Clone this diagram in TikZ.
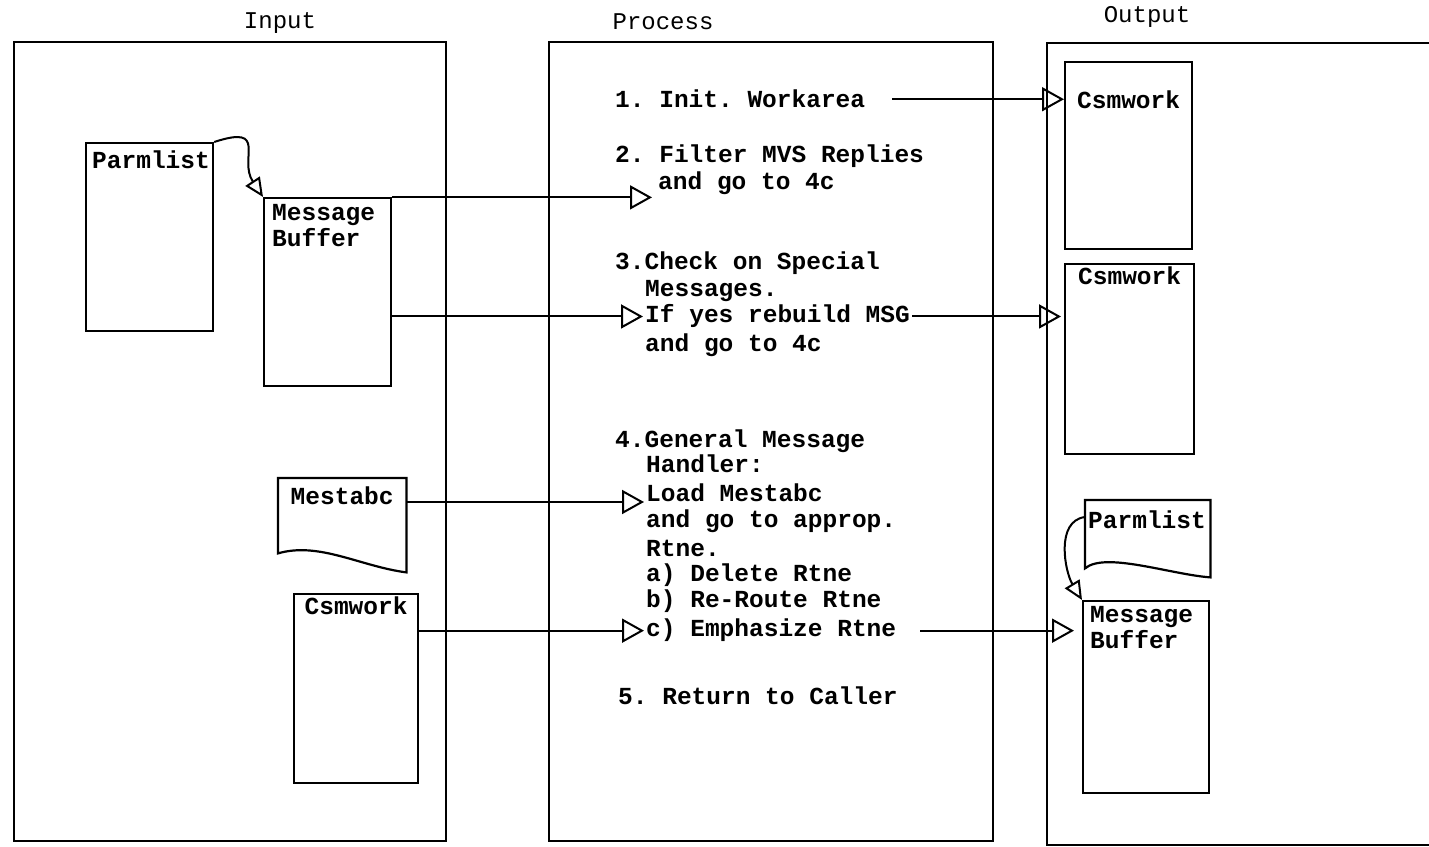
\documentclass[tikz,border=0pt]{standalone}
\usepackage{fontspec}
\setmonofont{Liberation Mono}
\usetikzlibrary{arrows.meta,positioning}

\begin{document}
\begin{tikzpicture}[x=1pt,y=1pt,
  panel/.style={draw,line width=2.4pt,anchor=south west,inner sep=0pt},
  box/.style={draw,line width=2.2pt,anchor=north west,inner sep=0pt},
  doc/.style={anchor=north west,inner sep=0pt},
  lbl/.style={font=\ttfamily\bfseries\fontsize{24.5}{26}\selectfont,inner sep=3pt,align=left},
  txt/.style={font=\ttfamily\bfseries\fontsize{24.5}{26}\selectfont,inner sep=2pt,anchor=base west},
  ttl/.style={font=\ttfamily\fontsize{24}{26}\selectfont},
  arr/.style={-{Triangle[open,length=22pt,width=24pt]},line width=2pt},
  curl/.style={-{Triangle[open,length=19pt,width=17pt]},line width=2pt}]
  \useasboundingbox (0,0) rectangle (1429,846);

  \node[panel,minimum width=432,minimum height=799]	(inp) at (13,4)	{};
  \node[panel,minimum width=444,minimum height=799]	(prc) at (548,4)	{};
  \draw[line width=2.4pt] (1429,803) -- (1047,803) -- (1047,1) -- (1429,1);

  \node[ttl]	(tin)  at (280,823)	{Input};
  \node[ttl]	(tprc) at (663,824)	{Process};
  \node[ttl]	(tout) at (1147,829)	{Output};

  \node[box,minimum width=127,minimum height=188,
    label={[lbl,anchor=north west,xshift=4pt,yshift=-6pt]north west:Parmlist}]		(pli) at (85,704)	{};
  \node[box,minimum width=127,minimum height=188,
    label={[lbl,anchor=north west,xshift=6pt,yshift=-4pt]north west:Message\\Buffer}]	(mbi) at (263,649)	{};
  \node[doc,minimum width=128,minimum height=94,
    label={[lbl,anchor=north,yshift=-6pt]north:Mestabc}]					(mes) at (278,368)	{};
  \node[box,minimum width=124,minimum height=189,
    label={[lbl,anchor=north,yshift=-1pt]north:Csmwork}]					(cwi) at (293,253)	{};

  \node[box,minimum width=127,minimum height=187,
    label={[lbl,anchor=north,yshift=-27pt]north:Csmwork}]					(cw1) at (1064,785)	{};
  \node[box,minimum width=129,minimum height=190,
    label={[lbl,anchor=north,yshift=-1pt]north:Csmwork}]					(cw2) at (1064,583)	{};
  \node[doc,minimum width=125,minimum height=77,
    label={[lbl,anchor=north west,yshift=-8pt]north west:Parmlist}]				(plo) at (1085,346)	{};
  \node[box,minimum width=126,minimum height=192,
    label={[lbl,anchor=north west,xshift=5pt,yshift=-3pt]north west:Message\\Buffer}]	(mbo) at (1082,246)	{};

  \draw[line width=2.2pt] (mes.north east) -- (mes.south east)
    .. controls +(-46,6) and +(41,12) .. ([yshift=19pt]mes.south west) -- (mes.north west) -- cycle;
  \draw[line width=2.2pt] (plo.north east) -- (plo.south east)
    .. controls +(-40,3) and +(20,17) .. ([yshift=9pt]plo.south west) -- (plo.north west) -- cycle;

  \node[txt]	(s1)  at (613,738)	{1. Init. Workarea};
  \node[txt]	(s2a) at (613,683)	{2. Filter MVS Replies};
  \node[txt]	(s2b) at (656,656)	{and go to 4c};
  \node[txt]	(s3a) at (613,576)	{3.Check on Special};
  \node[txt]	(s3b) at (643,549)	{Messages.};
  \node[txt]	(s3c) at (643,523)	{If yes rebuild MSG};
  \node[txt]	(s3d) at (643,494)	{and go to 4c};
  \node[txt]	(s4a) at (613,398)	{4.General Message};
  \node[txt]	(s4b) at (644,373)	{Handler:};
  \node[txt]	(s4c) at (644,344)	{Load Mestabc};
  \node[txt]	(s4d) at (644,318)	{and go to approp.};
  \node[txt]	(s4e) at (644,289)	{Rtne.};
  \node[txt]	(s4f) at (644,264)	{a) Delete Rtne};
  \node[txt]	(s4g) at (644,238)	{b) Re-Route Rtne};
  \node[txt]	(s4h) at (644,209)	{c) Emphasize Rtne};
  \node[txt]	(s5)  at (616,141)	{5. Return to Caller};

  \path	(s1.east)			edge [arr,shorten <=25pt]		(s1.east -| cw1.west)
	(mbi.east |- s2b.south west)	edge [arr,shorten >=4pt]		(s2b.south west)
	(mbi.east |- s3c.west)		edge [arr]				(s3c.west)
	(s3c.east)			edge [arr,shorten >=3pt]		(s3c.east -| cw2.west)
	(mes.east |- s4c.base west)	edge [arr]				(s4c.base west)
	(cwi.east |- s4h.west)		edge [arr]				(s4h.west)
	(s4h.east)			edge [arr,shorten <=22pt,shorten >=8pt]	(s4h.east -| mbo.west);

  \draw[curl] (pli.north east) .. controls +(55,18) and +(-25,38) .. (mbi.north west);
  \draw[curl] ([yshift=-17pt]plo.north west) .. controls +(-30,-4) and +(-17,28) .. (mbo.north west);
\end{tikzpicture}
\end{document}
